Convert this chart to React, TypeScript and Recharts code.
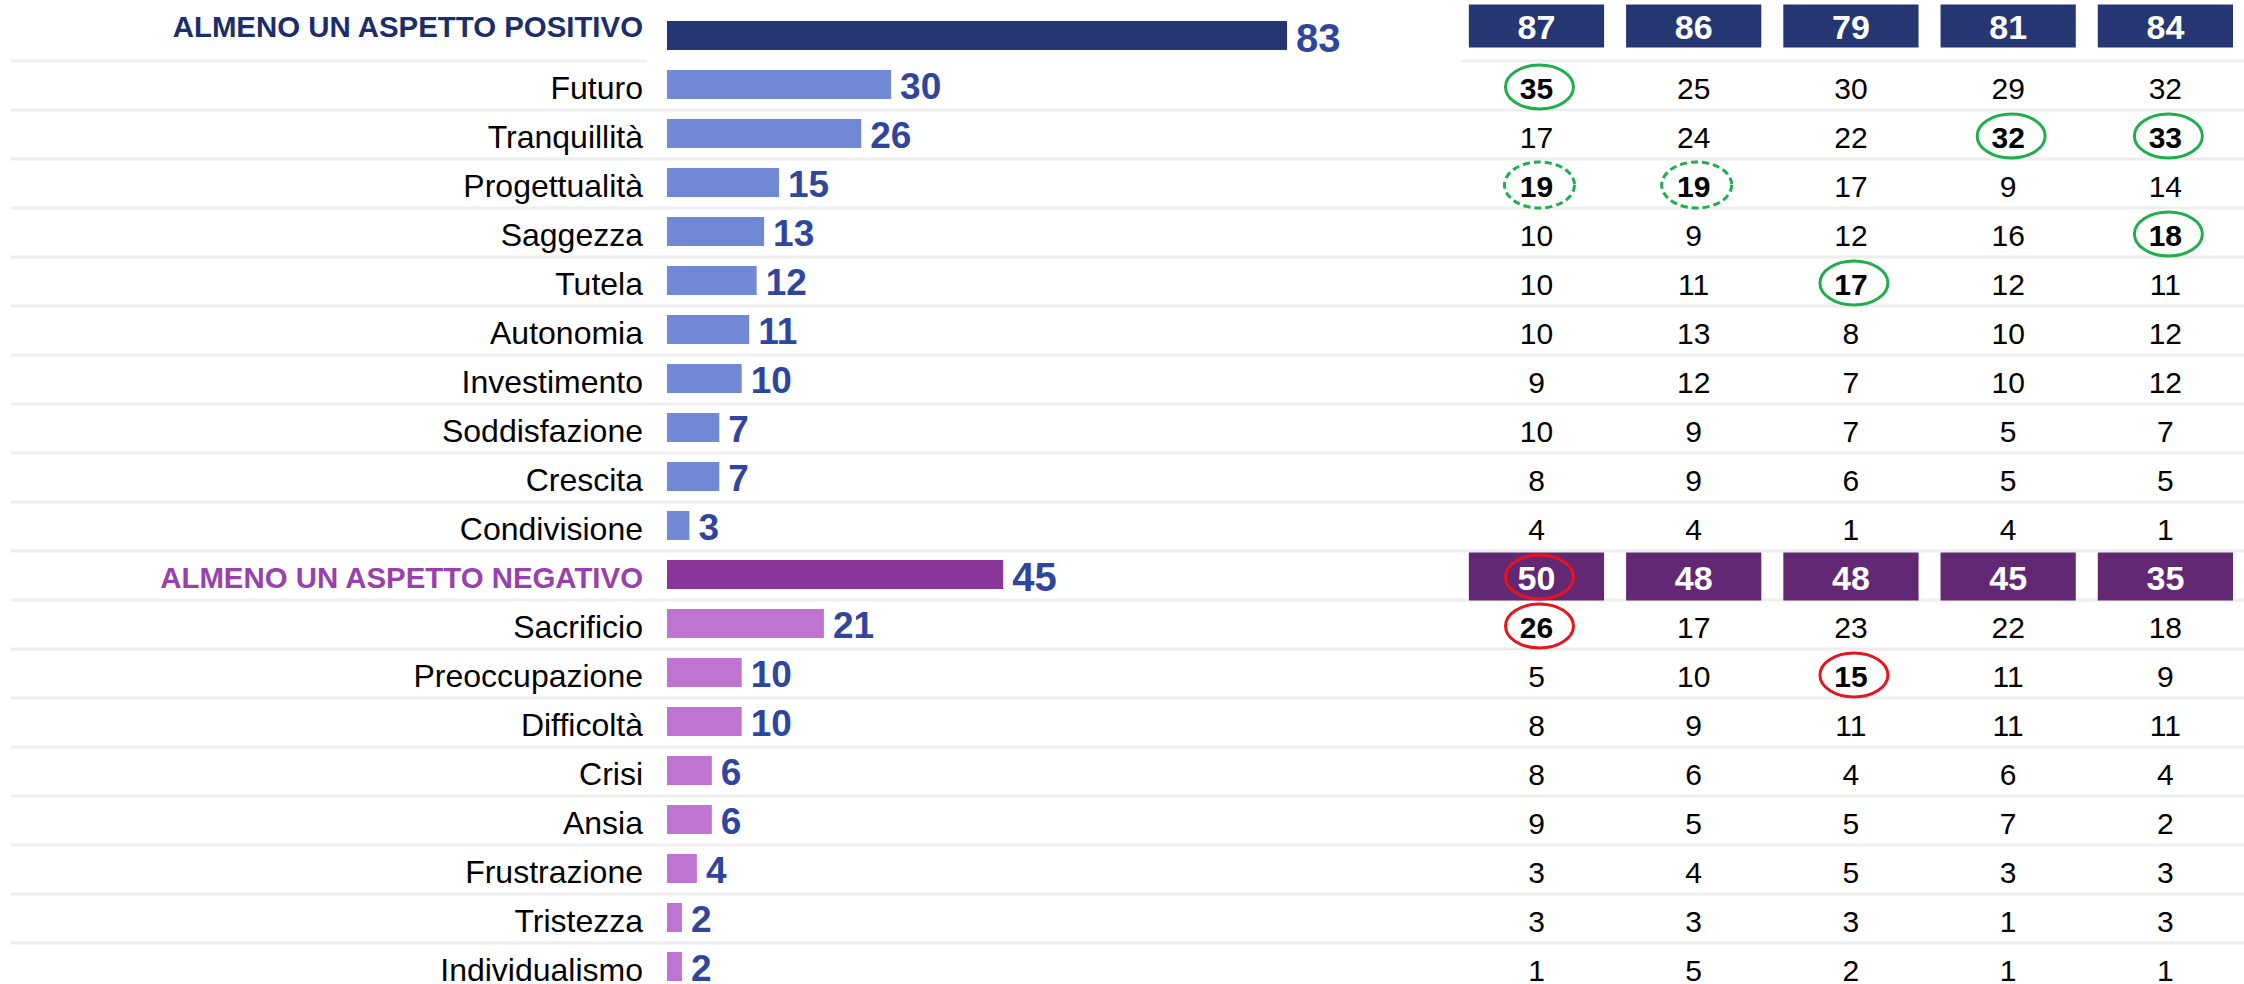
import React from 'react';
import { BarChart, Bar, XAxis, YAxis, CartesianGrid } from 'recharts';

// ---------- data ----------
const categories = [
  'ALMENO UN ASPETTO POSITIVO',
  'Futuro',
  'Tranquillità',
  'Progettualità',
  'Saggezza',
  'Tutela',
  'Autonomia',
  'Investimento',
  'Soddisfazione',
  'Crescita',
  'Condivisione',
  'ALMENO UN ASPETTO NEGATIVO',
  'Sacrificio',
  'Preoccupazione',
  'Difficoltà',
  'Crisi',
  'Ansia',
  'Frustrazione',
  'Tristezza',
  'Individualismo',
];

const rowKinds = [
  'posHead', 'pos', 'pos', 'pos', 'pos', 'pos', 'pos', 'pos', 'pos', 'pos', 'pos',
  'negHead', 'neg', 'neg', 'neg', 'neg', 'neg', 'neg', 'neg', 'neg',
];

const overall = [83, 30, 26, 15, 13, 12, 11, 10, 7, 7, 3, 45, 21, 10, 10, 6, 6, 4, 2, 2];

const column1 = [87, 35, 17, 19, 10, 10, 10, 9, 10, 8, 4, 50, 26, 5, 8, 8, 9, 3, 3, 1];
const column2 = [86, 25, 24, 19, 9, 11, 13, 12, 9, 9, 4, 48, 17, 10, 9, 6, 5, 4, 3, 5];
const column3 = [79, 30, 22, 17, 12, 17, 8, 7, 7, 6, 1, 48, 23, 15, 11, 4, 5, 5, 3, 2];
const column4 = [81, 29, 32, 9, 16, 12, 10, 10, 5, 5, 4, 45, 22, 11, 11, 6, 7, 3, 1, 1];
const column5 = [84, 32, 33, 14, 18, 11, 12, 12, 7, 5, 1, 35, 18, 9, 11, 4, 2, 3, 3, 1];

// highlighted cells: [row, column, marker]
const highlights: [number, number, string][] = [
  [1, 0, 'green'],
  [2, 3, 'green'],
  [2, 4, 'green'],
  [4, 4, 'green'],
  [5, 2, 'green'],
  [3, 0, 'greenDashed'],
  [3, 1, 'greenDashed'],
  [11, 0, 'red'],
  [12, 0, 'red'],
  [13, 2, 'red'],
];

// ---------- layout / style ----------
const W = 2244;
const H = 992;
const FONT = '"Liberation Sans", Arial, Helvetica, sans-serif';
const AXIS_W = 667;
const GRID_X0 = 11;
const GRID_GAP = [647, 1462];

const C = {
  posHeadBar: '#263673',
  posBar: '#7088d6',
  negHeadBar: '#8a3599',
  negBar: '#bf74d2',
  posHeadText: '#1b2d6b',
  negHeadText: '#9a3fae',
  value: '#2f459e',
  posBox: '#263673',
  negBox: '#632874',
  grid: '#eeeeee',
  green: '#1fae4c',
  red: '#e8141c',
};

const columns = [column1, column2, column3, column4, column5];

const data = categories.map((name, i) => ({
  name,
  kind: rowKinds[i],
  overall: overall[i],
  c0: column1[i],
  c1: column2[i],
  c2: column3[i],
  c3: column4[i],
  c4: column5[i],
}));

function findMark(row: number, col: number) {
  const h = highlights.find((m) => m[0] === row && m[1] === col);
  return h ? h[2] : null;
}

function CategoryTick(props: any) {
  const { x, y, payload } = props;
  const idx = categories.indexOf(payload.value);
  const kind = rowKinds[idx];
  if (kind === 'posHead' || kind === 'negHead') {
    return (
      <text
        x={x}
        y={y}
        dy={kind === 'posHead' ? -10 : 2}
        textAnchor="end"
        dominantBaseline="central"
        fontFamily={FONT}
        fontSize={29.4}
        fontWeight="bold"
        fill={kind === 'posHead' ? C.posHeadText : C.negHeadText}
      >
        {payload.value}
      </text>
    );
  }
  return (
    <text
      x={x}
      y={y}
      dy={2}
      textAnchor="end"
      dominantBaseline="central"
      fontFamily={FONT}
      fontSize={32}
      fill="#000"
    >
      {payload.value}
    </text>
  );
}

function OverallShape(props: any) {
  const { x, y, width, height, payload } = props;
  const kind = payload.kind;
  const fill =
    kind === 'posHead' ? C.posHeadBar : kind === 'pos' ? C.posBar : kind === 'negHead' ? C.negHeadBar : C.negBar;
  const head = kind === 'posHead' || kind === 'negHead';
  return (
    <g>
      <rect x={x} y={y - 1} width={width} height={height} fill={fill} />
      <text
        x={x + width + 9}
        y={y + height / 2}
        dy={1}
        dominantBaseline="central"
        fontFamily={FONT}
        fontSize={head ? 40 : 37}
        fontWeight="bold"
        fill={C.value}
      >
        {payload.overall}
      </text>
    </g>
  );
}

function makeCellShape(col: number) {
  return function CellShape(props: any) {
    const { x, y, width, height, payload, index } = props;
    const kind = payload.kind;
    const value = columns[col][index];
    const cx = x + width / 2;
    const cy = y + height / 2;
    const mark = findMark(index, col);
    const parts: any[] = [];
    let ty = cy + 2;
    if (kind === 'posHead' || kind === 'negHead') {
      const top = kind === 'posHead' ? y - 8.5 : y + 0.5;
      const h = kind === 'posHead' ? height - 5 : height;
      ty = kind === 'posHead' ? cy - 10 : cy + 2;
      parts.push(
        <rect key="b" x={x + 11} y={top} width={width - 22} height={h} fill={kind === 'posHead' ? C.posBox : C.negBox} />
      );
      parts.push(
        <text
          key="t"
          x={cx}
          y={ty}
          textAnchor="middle"
          dominantBaseline="central"
          fontFamily={FONT}
          fontSize={34}
          fontWeight="bold"
          fill="#fff"
        >
          {value}
        </text>
      );
    } else {
      parts.push(
        <text
          key="t"
          x={cx}
          y={ty}
          textAnchor="middle"
          dominantBaseline="central"
          fontFamily={FONT}
          fontSize={30}
          fontWeight={mark ? 'bold' : 'normal'}
          fill="#000"
        >
          {value}
        </text>
      );
    }
    if (mark) {
      const stroke = mark === 'red' ? C.red : C.green;
      parts.push(
        <ellipse
          key="e"
          cx={cx + 3}
          cy={ty - 1}
          rx={mark === 'greenDashed' ? 35 : 34}
          ry={mark === 'greenDashed' ? 23 : 22}
          fill="none"
          stroke={stroke}
          strokeWidth={3}
          strokeDasharray={mark === 'greenDashed' ? '7 4' : undefined}
        />
      );
    }
    return <g>{parts}</g>;
  };
}

const cellShapes = [0, 1, 2, 3, 4].map((c) => makeCellShape(c));

function GridLine(props: any) {
  const { y1, index } = props;
  const common = { stroke: C.grid, strokeWidth: 3 };
  if (index === 0) {
    return (
      <g>
        <line x1={GRID_X0} x2={GRID_GAP[0]} y1={y1} y2={y1} {...common} />
        <line x1={GRID_GAP[1]} x2={W} y1={y1} y2={y1} {...common} />
      </g>
    );
  }
  return <line x1={GRID_X0} x2={W} y1={y1} y2={y1} {...common} />;
}

export default function App() {
  return (
    <div
      style={{
        position: 'absolute',
        left: 0,
        top: 0,
        width: W,
        height: 984,
        overflow: 'hidden',
        background: '#fff',
      }}
    >
      <BarChart
        width={W}
        height={H}
        data={data}
        layout="vertical"
        margin={{ top: 12, right: 0, bottom: 0, left: 0 }}
      >
        <CartesianGrid
          xAxisId="bar"
          yAxisId="cat"
          vertical={false}
          x={GRID_X0}
          width={W - GRID_X0}
          horizontal={GridLine}
          horizontalCoordinatesGenerator={({ offset }: any) =>
            categories.slice(1).map((_, i) => offset.top + ((i + 1) * offset.height) / categories.length)
          }
        />
        <XAxis xAxisId="bar" type="number" domain={[0, 211.1]} allowDataOverflow hide />
        <XAxis xAxisId="tbl" type="number" domain={[-5.03, 5]} allowDataOverflow hide />
        <YAxis
          yAxisId="cat"
          type="category"
          dataKey="name"
          width={AXIS_W}
          interval={0}
          axisLine={false}
          tickLine={false}
          tickSize={0}
          tickMargin={24}
          tick={<CategoryTick />}
        />
        <YAxis yAxisId="tbl" type="category" dataKey="name" hide />
        <Bar
          dataKey="overall"
          xAxisId="bar"
          yAxisId="cat"
          barSize={29}
          isAnimationActive={false}
          shape={<OverallShape />}
        />
        {cellShapes.map((shape, c) => (
          <Bar
            key={c}
            dataKey={() => 1}
            name={`col${c}`}
            stackId="tbl"
            xAxisId="tbl"
            yAxisId="tbl"
            barSize={48}
            isAnimationActive={false}
            shape={shape}
          />
        ))}
      </BarChart>
    </div>
  );
}
